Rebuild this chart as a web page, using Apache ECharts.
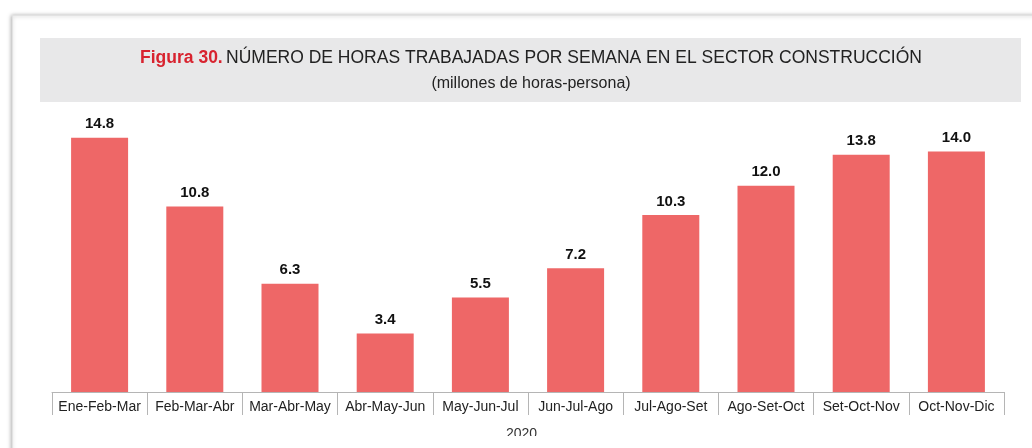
<!DOCTYPE html>
<html>
<head>
<meta charset="utf-8">
<script src="https://cdn.jsdelivr.net/npm/echarts@6/dist/echarts.min.js"></script>
<style>
  html, body { margin: 0; padding: 0; background: #fff; }
  #chart { width: 1032px; height: 448px; }
</style>
</head>
<body>
<div id="chart"></div>
<script>
const categories = ['Ene-Feb-Mar', 'Feb-Mar-Abr', 'Mar-Abr-May', 'Abr-May-Jun', 'May-Jun-Jul',
  'Jun-Jul-Ago', 'Jul-Ago-Set', 'Ago-Set-Oct', 'Set-Oct-Nov', 'Oct-Nov-Dic'];
const horas = [14.8, 10.8, 6.3, 3.4, 5.5, 7.2, 10.3, 12.0, 13.8, 14.0];
const yearLabel = '2020';

const chart = echarts.init(document.getElementById('chart'));
chart.setOption({
  animation: false,
  textStyle: { fontFamily: 'Liberation Sans, Arial, sans-serif' },
  graphic: [
    // marco de la tarjeta
    {
      type: 'rect', left: 12, top: 15, z: -10,
      shape: { width: 1040, height: 460 },
      style: { fill: '#fff', stroke: '#e2e2e2', lineWidth: 1, shadowBlur: 4, shadowColor: 'rgba(0,0,0,0.35)', shadowOffsetX: -1 }
    },
    // caja gris del título
    {
      type: 'rect', left: 40, top: 38, z: -5,
      shape: { width: 981, height: 64 },
      style: { fill: '#e8e8e9' }
    },
    {
      type: 'text', x: 531, y: 58,
      style: {
        text: '{r|Figura 30.} {n|NÚMERO DE HORAS TRABAJADAS POR SEMANA EN EL SECTOR CONSTRUCCIÓN}',
        align: 'center', verticalAlign: 'middle',
        rich: {
          r: { fontSize: 17.5, fontWeight: 'bold', fill: '#d8232f', fontFamily: 'Liberation Sans' },
          n: { fontSize: 17.5, fill: '#222', fontFamily: 'Liberation Sans' }
        }
      }
    },
    {
      type: 'text', x: 531, y: 84,
      style: { text: '(millones de horas-persona)', fontSize: 16, fill: '#222', fontFamily: 'Liberation Sans', align: 'center', verticalAlign: 'middle' }
    },
    {
      type: 'text', left: 506, top: 427, z: 5,
      style: { text: yearLabel, fontSize: 14, fill: '#333', fontFamily: 'Liberation Sans' }
    },
    // recorte inferior del año
    {
      type: 'rect', left: 480, top: 436, z: 10,
      shape: { width: 90, height: 14 },
      style: { fill: '#fff' }
    }
  ],
  grid: { left: 52, right: 28, top: 117, bottom: 56 },
  xAxis: {
    type: 'category',
    data: categories,
    axisLine: { lineStyle: { color: '#b5b5b5', width: 1 } },
    axisTick: { show: true, length: 23, lineStyle: { color: '#b5b5b5' } },
    axisLabel: { interval: 0, color: '#222', fontSize: 14, margin: 8 }
  },
  yAxis: {
    type: 'value', min: 0, max: 16,
    show: false,
    splitLine: { show: false }
  },
  series: [{
    type: 'bar',
    data: horas,
    barWidth: 57,
    itemStyle: { color: '#ee6767' },
    label: {
      show: true,
      position: 'top',
      distance: 6,
      formatter: p => p.value.toFixed(1),
      fontSize: 15,
      fontWeight: 'bold',
      color: '#111'
    }
  }]
});
</script>
</body>
</html>
